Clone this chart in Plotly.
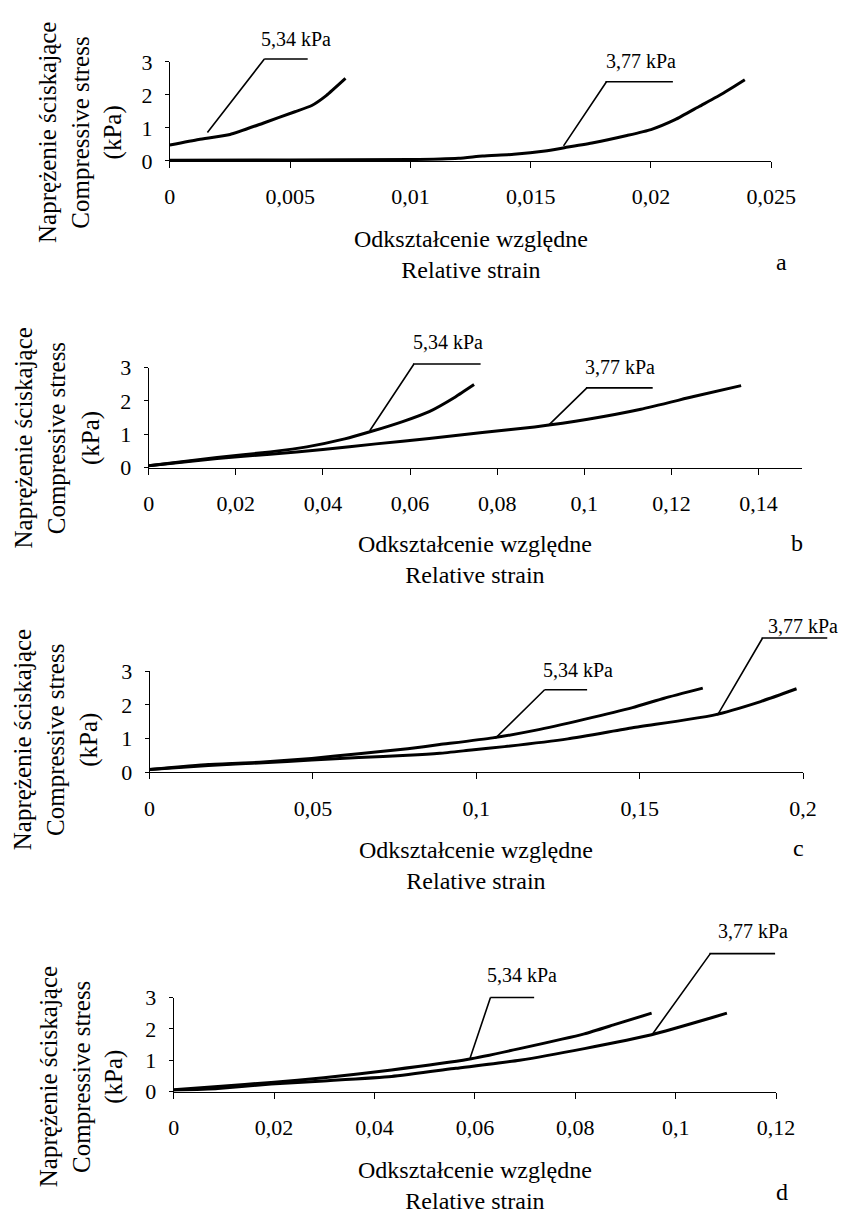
import plotly.graph_objects as go

W, H = 857, 1227
FONT = "Liberation Serif"

# ---------------- data ----------------
panel_letters = ["a", "b", "c", "d"]
curve_names = ["5,34 kPa", "3,77 kPa"]

# panel a
a_strain_534 = [0, 0.0012, 0.0025, 0.0039, 0.0052, 0.0059, 0.0065, 0.0073]
a_stress_534 = [0.48, 0.65, 0.80, 1.15, 1.49, 1.68, 1.98, 2.50]
a_strain_377 = [0, 0.005, 0.010, 0.012, 0.013, 0.0143, 0.0156, 0.0164, 0.0176,
                0.019, 0.020, 0.021, 0.022, 0.023, 0.0239]
a_stress_377 = [0.02, 0.03, 0.04, 0.08, 0.15, 0.20, 0.30, 0.40, 0.55,
                0.77, 0.95, 1.25, 1.65, 2.05, 2.46]
# panel b
b_strain_534 = [0, 0.0157, 0.0279, 0.0363, 0.045, 0.051, 0.0583, 0.0644, 0.0704, 0.0747]
b_stress_534 = [0.05, 0.30, 0.47, 0.62, 0.86, 1.08, 1.38, 1.68, 2.12, 2.49]
b_strain_377 = [0, 0.0157, 0.0279, 0.040, 0.0522, 0.0644, 0.0766, 0.0886, 0.1008,
                0.113, 0.1251, 0.136]
b_stress_377 = [0.05, 0.27, 0.40, 0.54, 0.71, 0.87, 1.05, 1.22, 1.45, 1.75, 2.13, 2.46]
# panel c
c_strain_534 = [0, 0.018, 0.0348, 0.0496, 0.064, 0.079, 0.0888, 0.105, 0.1183,
                0.133, 0.1478, 0.1575, 0.1693]
c_stress_534 = [0.08, 0.23, 0.30, 0.41, 0.55, 0.70, 0.82, 1.02, 1.25,
                1.57, 1.92, 2.20, 2.50]
c_strain_377 = [0, 0.018, 0.0348, 0.0496, 0.064, 0.079, 0.0888, 0.0985, 0.1086,
                0.128, 0.1478, 0.1723, 0.187, 0.198]
c_stress_377 = [0.08, 0.20, 0.28, 0.36, 0.44, 0.50, 0.56, 0.66, 0.76,
                0.99, 1.32, 1.69, 2.10, 2.48]
# panel d
d_strain_534 = [0, 0.0088, 0.0194, 0.0299, 0.0434, 0.0587, 0.0689, 0.0818, 0.0881, 0.0952]
d_stress_534 = [0.06, 0.16, 0.29, 0.44, 0.69, 1.03, 1.37, 1.84, 2.15, 2.50]
d_strain_377 = [0, 0.0088, 0.0194, 0.0299, 0.0434, 0.0562, 0.0689, 0.0818, 0.0952,
                0.1073, 0.1102]
d_stress_377 = [0.04, 0.10, 0.24, 0.34, 0.48, 0.74, 1.00, 1.37, 1.81, 2.36, 2.50]

# x tick values / labels per panel
a_xticks = [0, 0.005, 0.01, 0.015, 0.02, 0.025]
a_xlabels = ["0", "0,005", "0,01", "0,015", "0,02", "0,025"]
b_xticks = [0, 0.02, 0.04, 0.06, 0.08, 0.10, 0.12, 0.14]
b_xlabels = ["0", "0,02", "0,04", "0,06", "0,08", "0,1", "0,12", "0,14"]
c_xticks = [0, 0.05, 0.10, 0.15, 0.20]
c_xlabels = ["0", "0,05", "0,1", "0,15", "0,2"]
d_xticks = [0, 0.02, 0.04, 0.06, 0.08, 0.10, 0.12]
d_xlabels = ["0", "0,02", "0,04", "0,06", "0,08", "0,1", "0,12"]
y_ticks = [0, 1, 2, 3]
y_labels = ["0", "1", "2", "3"]

x_ranges = [[0, 0.025], [0, 0.15], [0, 0.20], [0, 0.12]]
y_range = [0, 3]

# callout leader lines (data units): curve point -> corner -> end, and label anchor
a_call534_x = [0.0016, 0.00393, 0.00573]; a_call534_y = [0.86, 3.09, 3.09]; a_lab534 = [0.00525, 3.71]
a_call377_x = [0.01639, 0.01815, 0.02091]; a_call377_y = [0.45, 2.40, 2.40]; a_lab377 = [0.01959, 3.03]
b_call534_x = [0.0509, 0.0609, 0.0762]; b_call534_y = [1.10, 3.11, 3.11]; b_lab534 = [0.0687, 3.77]
b_call377_x = [0.0917, 0.1006, 0.1157]; b_call377_y = [1.24, 2.39, 2.39]; b_lab377 = [0.1081, 3.03]
c_call534_x = [0.1059, 0.1209, 0.1339]; c_call534_y = [0.99, 2.45, 2.45]; c_lab534 = [0.131, 3.03]
c_call377_x = [0.1740, 0.1876, 0.2074]; c_call377_y = [1.69, 3.99, 3.99]; c_lab377 = [0.2, 4.34]
d_call534_x = [0.0591, 0.0631, 0.0718]; d_call534_y = [1.06, 3.00, 3.00]; d_lab534 = [0.0694, 3.72]
d_call377_x = [0.0955, 0.1069, 0.1198]; d_call377_y = [1.82, 4.40, 4.40]; d_lab377 = [0.1153, 5.13]

xtitle = "Odkształcenie względne<br>Relative strain"
ytitle_lines = ["Naprężenie ściskające", "Compressive stress", "(kPa)"]

# ---------------- layout geometry (pixels) ----------------
plot_px = [  # left, right, top(y=3), bottom(y=0)
    (170, 794, 51, 152),
    (148, 826, 363, 465),
    (149, 827, 673, 776),
    (174, 799, 1006, 1102),
]
xtitle_y = [248, 559, 871, 1198]
ytitle_cy = [123, 435, 743, 1087]
ytitle_x = [(43, 77, 112), (18, 52, 88), (18, 52, 86), (44, 79, 112)]
letter_pos = [(805, 255), (821, 542), (822, 853), (805, 1205)]

panels = [
    (a_strain_534, a_stress_534, a_strain_377, a_stress_377, a_xticks, a_xlabels,
     (a_call534_x, a_call534_y, a_lab534), (a_call377_x, a_call377_y, a_lab377)),
    (b_strain_534, b_stress_534, b_strain_377, b_stress_377, b_xticks, b_xlabels,
     (b_call534_x, b_call534_y, b_lab534), (b_call377_x, b_call377_y, b_lab377)),
    (c_strain_534, c_stress_534, c_strain_377, c_stress_377, c_xticks, c_xlabels,
     (c_call534_x, c_call534_y, c_lab534), (c_call377_x, c_call377_y, c_lab377)),
    (d_strain_534, d_stress_534, d_strain_377, d_stress_377, d_xticks, d_xlabels,
     (d_call534_x, d_call534_y, d_lab534), (d_call377_x, d_call377_y, d_lab377)),
]


def px(x):
    return x / W


def py(y):
    return 1 - y / H


def to_pixels(i, x, y):
    """Map data coordinates of panel i to page pixels (same linear map as the axes)."""
    left, right, top, bottom = plot_px[i]
    r0, r1 = x_ranges[i]
    X = left + (x - r0) / (r1 - r0) * (right - left)
    Y = bottom - (y - y_range[0]) / (y_range[1] - y_range[0]) * (bottom - top)
    return X, Y


fig = go.Figure()
annotations = []
layout_axes = {}

for i, (xs5, ys5, xs3, ys3, xt, xl, call5, call3) in enumerate(panels):
    n = "" if i == 0 else str(i + 1)
    xref, yref = "x" + n, "y" + n
    left, right, top, bottom = plot_px[i]
    for xs, ys, name in ((xs5, ys5, curve_names[0]), (xs3, ys3, curve_names[1])):
        fig.add_trace(go.Scatter(
            x=xs, y=ys, mode="lines", name=name, xaxis=xref, yaxis=yref,
            line=dict(color="black", width=3, shape="spline", smoothing=0.5),
            showlegend=False, hoverinfo="skip"))
    layout_axes["xaxis" + n] = dict(
        domain=[px(left), px(right)], anchor=yref, range=x_ranges[i],
        tickvals=xt, ticktext=xl, showline=True, linecolor="black", linewidth=1,
        ticks="outside", ticklen=6, tickcolor="black", tickwidth=1,
        ticklabelstandoff=10,
        tickfont=dict(family=FONT, size=22, color="black"),
        showgrid=False, zeroline=False, fixedrange=True)
    layout_axes["yaxis" + n] = dict(
        domain=[py(bottom), py(top)], anchor=xref, range=y_range,
        tickvals=y_ticks, ticktext=y_labels, showline=True, linecolor="black",
        linewidth=1, ticks="outside", ticklen=4, tickcolor="black", tickwidth=1,
        ticklabelstandoff=8,
        tickfont=dict(family=FONT, size=22, color="black"),
        showgrid=False, zeroline=False, fixedrange=True)

    # callouts (placed in page coordinates so they may extend above the axes)
    for (cx, cy, lab), name in ((call5, curve_names[0]), (call3, curve_names[1])):
        pts = [to_pixels(i, cx[k], cy[k]) for k in range(3)]
        for k in range(2):
            tx, ty = pts[k]
            hx, hy = pts[k + 1]
            annotations.append(dict(
                x=px(hx), y=py(hy), xref="paper", yref="paper",
                ax=tx - hx, ay=ty - hy,
                text="", showarrow=True, arrowhead=0, arrowwidth=1.6,
                arrowcolor="black", standoff=0, startstandoff=0))
        lx, ly = to_pixels(i, lab[0], lab[1])
        annotations.append(dict(
            x=px(lx), y=py(ly), xref="paper", yref="paper", text=name,
            showarrow=False, xanchor="center", yanchor="middle",
            font=dict(family=FONT, size=20, color="black")))

    # x-axis title
    annotations.append(dict(
        x=px((left + right) / 2), y=py(xtitle_y[i]), xref="paper", yref="paper",
        text=xtitle, showarrow=False, xanchor="center", yanchor="middle",
        font=dict(family=FONT, size=24, color="black")))
    # y-axis title (three rotated lines)
    for k, line in enumerate(ytitle_lines):
        annotations.append(dict(
            x=px(ytitle_x[i][k]), y=py(ytitle_cy[i]), xref="paper", yref="paper",
            text=line, textangle=-90, showarrow=False,
            xanchor="center", yanchor="middle",
            font=dict(family=FONT, size=25, color="black")))
    # panel letter
    annotations.append(dict(
        x=px(letter_pos[i][0]), y=py(letter_pos[i][1]), xref="paper", yref="paper",
        text=panel_letters[i], showarrow=False, xanchor="center", yanchor="middle",
        font=dict(family=FONT, size=24, color="black")))

fig.update_layout(
    width=W, height=H, margin=dict(l=0, r=0, t=0, b=0),
    paper_bgcolor="white", plot_bgcolor="white",
    font=dict(family=FONT, color="black"),
    separators=", ", showlegend=False,
    annotations=annotations, **layout_axes)

fig.write_html("out.html", config={"displayModeBar": False},
               post_script="document.body.style.margin='0px';document.body.style.overflow='hidden';")
